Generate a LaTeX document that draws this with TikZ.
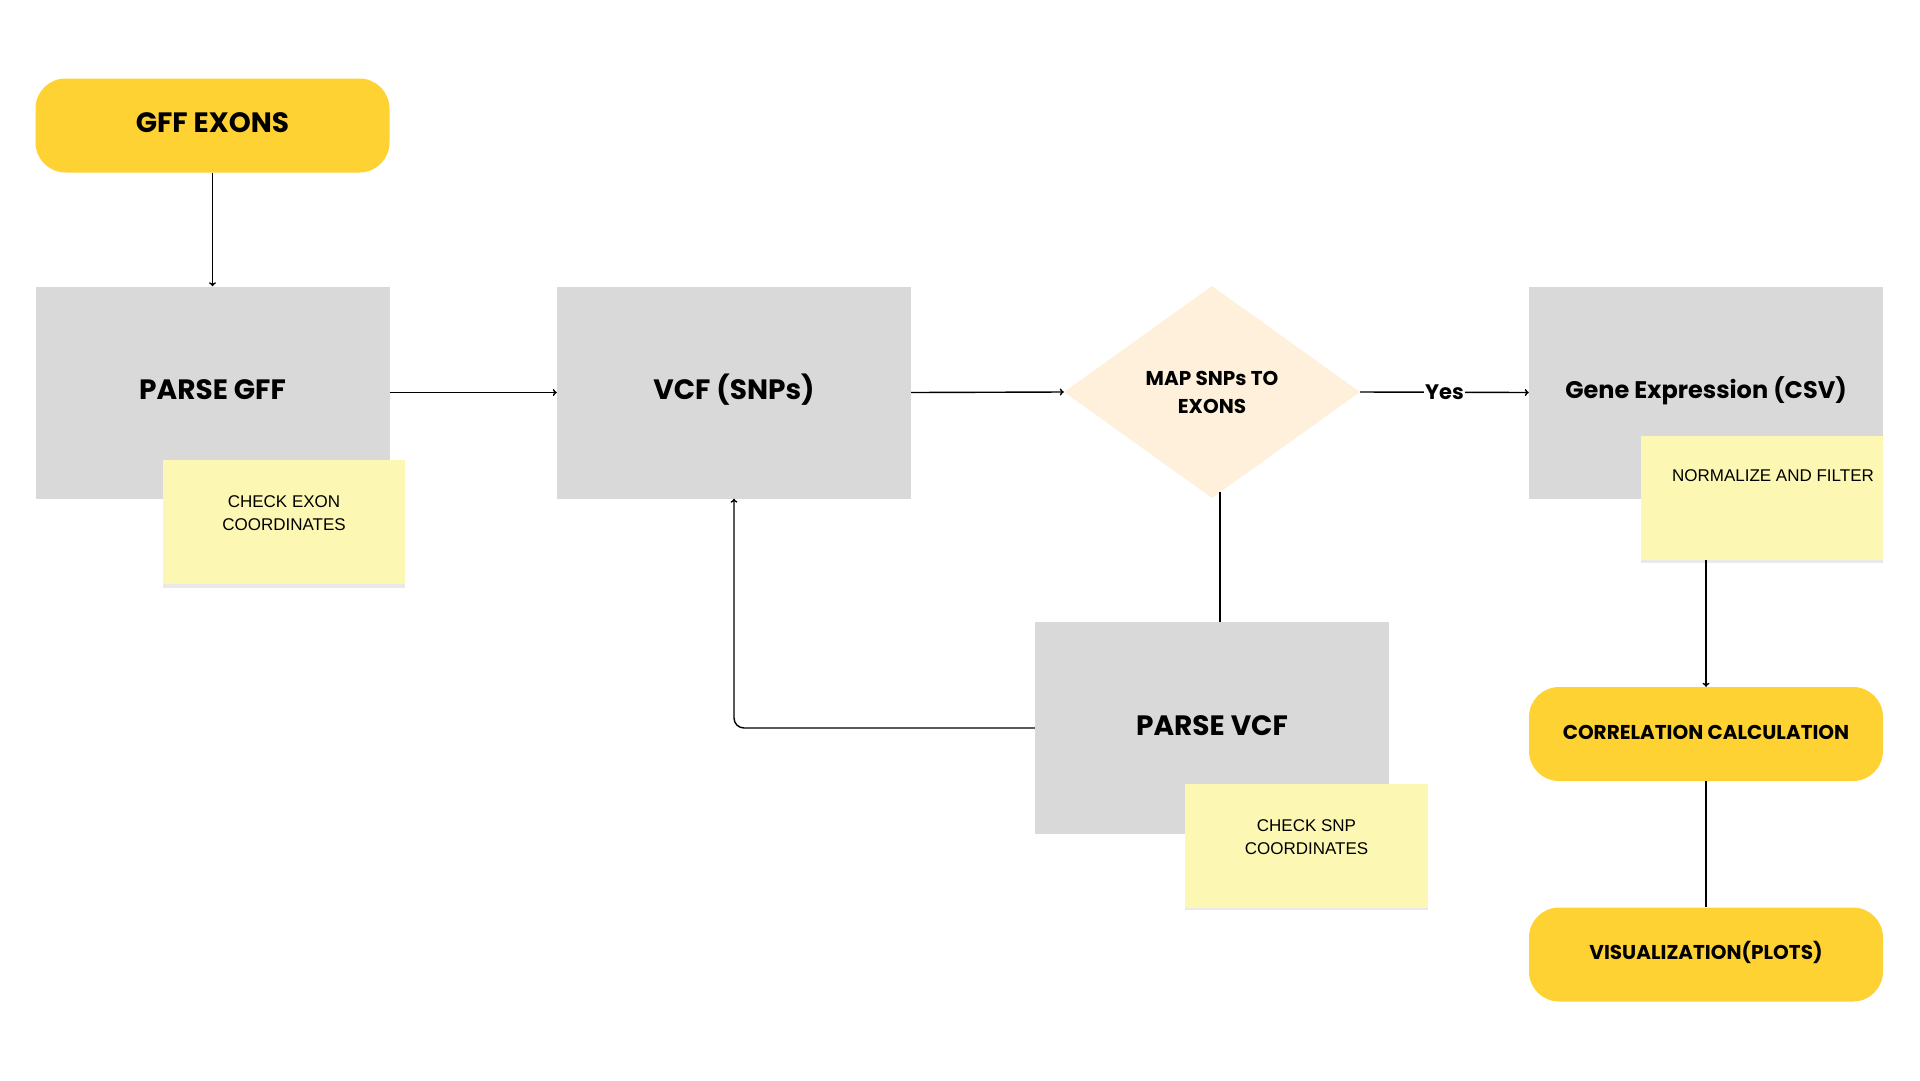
\documentclass[tikz,border=0pt]{standalone}
\usepackage{fontspec}
\setmainfont{Liberation Sans}
\newfontfamily\headfont{Poppins}
\usetikzlibrary{shapes.geometric,arrows.meta}
\definecolor{pill}{HTML}{FFD233}
\definecolor{boxgray}{HTML}{D9D9D9}
\definecolor{stickyc}{HTML}{FDF7B4}
\definecolor{diamondc}{HTML}{FEF0DA}
\definecolor{shadowc}{HTML}{E9E9E9}
\begin{document}
\begin{tikzpicture}[x=1pt,y=-1pt,
  headtxt/.style={font=\headfont\bfseries\fontsize{#1}{#1}\selectfont},
  bigtxt/.style={headtxt=28, text height=20pt, text depth=6pt},
  pillbox/.style={fill=pill, rounded corners=30pt, minimum width=354pt, minimum height=94pt, inner sep=0pt, headtxt=20, text height=14pt, text depth=4pt},
  procbox/.style={fill=boxgray, minimum width=354pt, minimum height=212pt, inner sep=0pt, bigtxt},
  notebox/.style={fill=stickyc, minimum width=242pt, minimum height=124pt, inner sep=0pt},
  notetext/.style={font=\fontsize{17}{23}\selectfont, align=center, inner sep=0pt},
  decision/.style={diamond, fill=diamondc, minimum width=296pt, minimum height=212pt, inner sep=0pt, aspect=1.4, align=center, font=\headfont\bfseries\fontsize{20}{28}\selectfont},
  conn/.style={line width=1.4pt, draw=black},
  arr/.style={conn, -{To[length=4pt,width=7pt]}}
]
\path[use as bounding box, fill=white] (0,0) rectangle (1920,1080);

% yellow pills
\node[pillbox, bigtxt] (gff) at (212.5,125.5) {GFF EXONS};
\node[pillbox] (corr) at (1706,734) {CORRELATION CALCULATION};
\node[pillbox] (vis) at (1706,954.5) {VISUALIZATION(PLOTS)};

% process boxes
\node[procbox] (pgff) at (212.5,392.5) {PARSE GFF};
\node[procbox] (vcf) at (734,392.5) {VCF (SNPs)};
\node[procbox, headtxt=24, text height=17pt, text depth=5pt] (gene) at (1706,392.5) {Gene Expression (CSV)};
\node[procbox] (pvcf) at (1212,728) {PARSE VCF};

% decision
\node[decision] (dia) at (1212,392) {MAP SNPs TO\\EXONS};

% sticky notes
\fill[shadowc] (163,583) rectangle (405,588);
\node[notebox] (n1) at (284,522) {};
\node[notetext] (t1) at (284,513.5) {CHECK EXON\\COORDINATES};

\fill[shadowc] (1641,558) rectangle (1883,563);
\node[notebox] (n2) at (1762,497.5) {};
\node[notetext] (t2) at (1773,476) {NORMALIZE AND FILTER};

\fill[shadowc] (1185,905) rectangle (1428,910);
\node[notebox, minimum width=243pt] (n3) at (1306.5,845.5) {};
\node[notetext] (t3) at (1306.5,837) {CHECK SNP\\COORDINATES};

% connectors
\draw[arr] (gff.south) -- (pgff.north);
\draw[arr] (pgff.east) -- (vcf.west);
\draw[arr] (vcf.east) -- (dia.west);
\draw[arr] (dia.east) -- node[fill=white, inner sep=1pt, headtxt=21] (yes) {Yes} (gene.west);
\draw[conn] ([xshift=8pt]pvcf.north) -- ([xshift=8pt,yshift=6pt]dia.south);
\draw[arr, rounded corners=10pt] (pvcf.west) -| (vcf.south);
\draw[arr] (gene.center |- n2.south) -- (corr.north);
\draw[conn] (corr.south) -- (vis.north);
\end{tikzpicture}
\end{document}
